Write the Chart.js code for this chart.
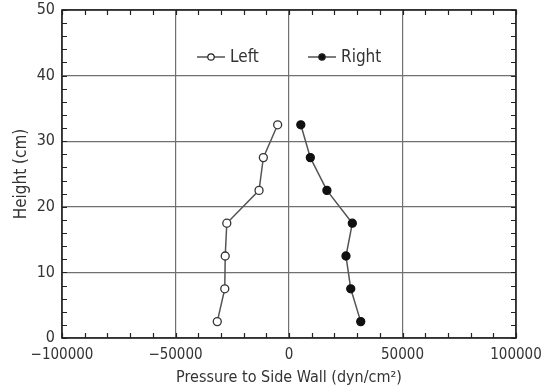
<!DOCTYPE html>
<html>
<head>
<meta charset="utf-8">
<script src="https://cdn.jsdelivr.net/npm/chart.js@4"></script>
<style>
  html, body { margin: 0; padding: 0; background: #fff; }
  #wrap { width: 547px; height: 391px; }
</style>
</head>
<body>
<div id="wrap"><canvas id="chart" width="547" height="391"></canvas></div>
<script>
// values
const heights = [2.5, 7.5, 12.5, 17.5, 22.5, 27.5, 32.5];
const leftPressure = [-31600, -28300, -28100, -27400, -13200, -11300, -5000];
const rightPressure = [31600, 27200, 25100, 27900, 16700, 9400, 5200];
const seriesNames = ['Left', 'Right'];
const xTicks = [-100000, -50000, 0, 50000, 100000];
const yTicks = [0, 10, 20, 30, 40, 50];

const FONT = "'Liberation Sans Narrow', 'DejaVu Sans Condensed', 'Liberation Sans', sans-serif";
const INK = '#333';

const toPoints = (xs) => xs.map((x, i) => ({ x: x, y: heights[i] }));

// frame, inward minor ticks, in-plot legend
const decorations = {
  id: 'decorations',
  afterDraw(chart) {
    const { ctx, chartArea: a, scales: { x, y } } = chart;
    ctx.save();
    ctx.strokeStyle = '#222';
    ctx.lineWidth = 1.2;
    for (let v = xTicks[0]; v <= xTicks[xTicks.length - 1]; v += 10000) {
      const px = Math.round(x.getPixelForValue(v)) + 0.5;
      ctx.beginPath();
      ctx.moveTo(px, a.bottom); ctx.lineTo(px, a.bottom - 5);
      ctx.moveTo(px, a.top); ctx.lineTo(px, a.top + 5);
      ctx.stroke();
    }
    for (let v = yTicks[0]; v <= yTicks[yTicks.length - 1]; v += 2) {
      const py = Math.round(y.getPixelForValue(v)) + 0.5;
      ctx.beginPath();
      ctx.moveTo(a.left, py); ctx.lineTo(a.left + 5, py);
      ctx.moveTo(a.right, py); ctx.lineTo(a.right - 5, py);
      ctx.stroke();
    }
    ctx.lineWidth = 1.6;
    ctx.strokeRect(a.left, a.top, a.right - a.left, a.bottom - a.top);

    // legend
    const items = [
      { x0: a.left + 135, fill: '#fff' },
      { x0: a.left + 246, fill: '#111' }
    ];
    const ly = a.top + 47;
    ctx.font = '17px ' + FONT;
    ctx.textBaseline = 'middle';
    items.forEach((it, i) => {
      ctx.strokeStyle = '#444';
      ctx.lineWidth = 1.4;
      ctx.beginPath();
      ctx.moveTo(it.x0, ly); ctx.lineTo(it.x0 + 28, ly);
      ctx.stroke();
      ctx.beginPath();
      ctx.arc(it.x0 + 14, ly, 3.2, 0, Math.PI * 2);
      ctx.fillStyle = it.fill;
      ctx.fill();
      ctx.strokeStyle = '#222';
      ctx.lineWidth = 1.2;
      ctx.stroke();
      ctx.fillStyle = INK;
      ctx.fillText(seriesNames[i], it.x0 + 33, ly + 1);
    });
    ctx.restore();
  }
};

new Chart(document.getElementById('chart'), {
  type: 'scatter',
  data: {
    datasets: [
      {
        label: seriesNames[0],
        data: toPoints(leftPressure),
        showLine: true,
        borderColor: '#555',
        borderWidth: 1.5,
        pointBackgroundColor: '#fff',
        pointBorderColor: '#333',
        pointBorderWidth: 1.3,
        pointRadius: 4
      },
      {
        label: seriesNames[1],
        data: toPoints(rightPressure),
        showLine: true,
        borderColor: '#555',
        borderWidth: 1.5,
        pointBackgroundColor: '#111',
        pointBorderColor: '#111',
        pointBorderWidth: 1.3,
        pointRadius: 4
      }
    ]
  },
  options: {
    responsive: false,
    animation: false,
    layout: { padding: { top: 10, right: 31, left: 0, bottom: 0 } },
    plugins: { legend: { display: false }, tooltip: { enabled: false } },
    scales: {
      x: {
        type: 'linear',
        min: xTicks[0],
        max: xTicks[xTicks.length - 1],
        afterBuildTicks: (s) => { s.ticks = xTicks.map(v => ({ value: v })); },
        afterFit: (s) => { s.height = 53; s.paddingLeft = 0; s.paddingRight = 0; },
        grid: { color: '#707070', lineWidth: 1.2, drawTicks: false },
        border: { display: false },
        ticks: {
          padding: 8,
          color: INK,
          font: { family: FONT, size: 15 },
          maxRotation: 0,
          callback: (v) => (v < 0 ? '\u2212' + Math.abs(v) : String(v))
        },
        title: {
          display: true,
          text: 'Pressure to Side Wall (dyn/cm\u00b2)',
          color: INK,
          font: { family: FONT, size: 16 },
          padding: { top: 0, bottom: 4 }
        }
      },
      y: {
        type: 'linear',
        min: yTicks[0],
        max: yTicks[yTicks.length - 1],
        afterBuildTicks: (s) => { s.ticks = yTicks.map(v => ({ value: v })); },
        afterFit: (s) => { s.width = 62; s.paddingTop = 0; s.paddingBottom = 0; },
        grid: { color: '#707070', lineWidth: 1.2, drawTicks: false },
        border: { display: false },
        ticks: {
          padding: 7,
          color: INK,
          font: { family: FONT, size: 16 }
        },
        title: {
          display: true,
          text: 'Height (cm)',
          color: INK,
          font: { family: FONT, size: 17 },
          padding: { top: 11, bottom: 0 }
        }
      }
    }
  },
  plugins: [decorations]
});
</script>
</body>
</html>
